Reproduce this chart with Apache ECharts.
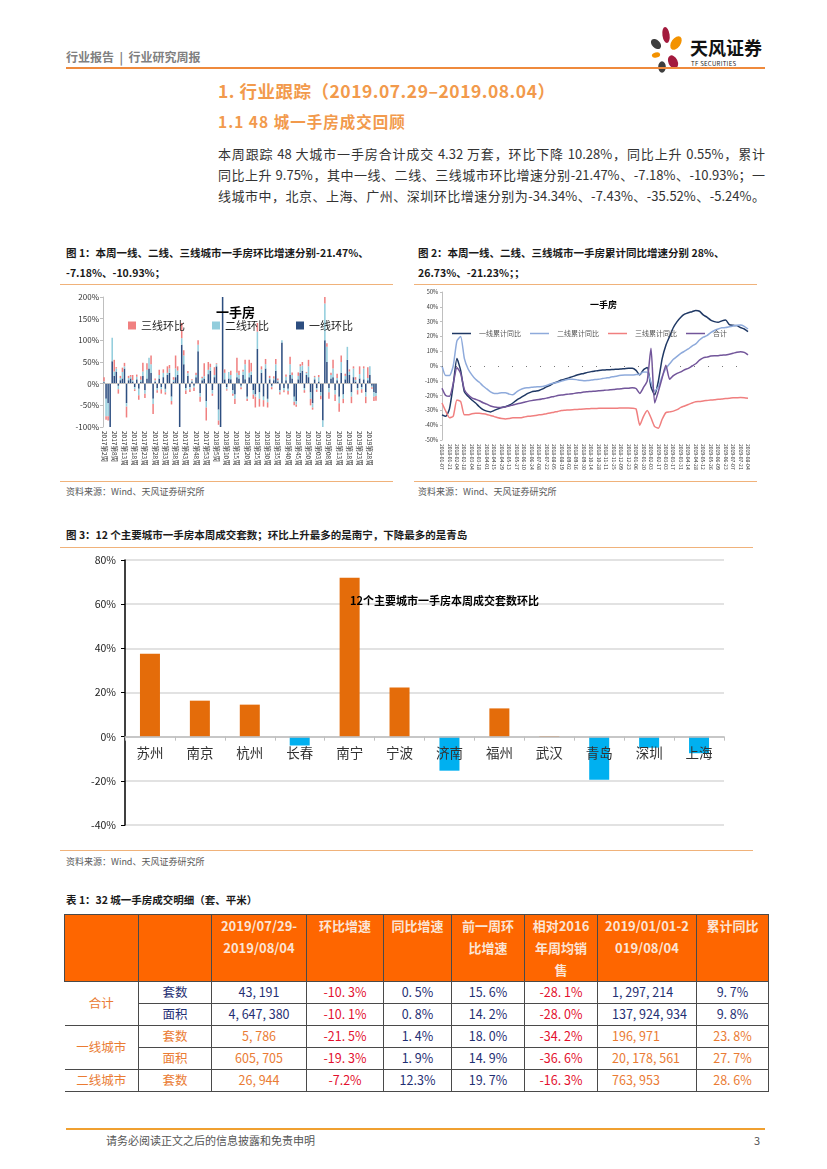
<!DOCTYPE html>
<html lang="zh-CN">
<head>
<meta charset="utf-8">
<title>行业研究周报</title>
<script src="https://cdn.jsdelivr.net/npm/echarts@6/dist/echarts.min.js"></script>
<style>
html,body{margin:0;padding:0;background:#fff;}
#page{position:relative;width:827px;height:1169px;overflow:hidden;font-family:"Noto Sans CJK SC","Noto Sans",sans-serif;color:#333;background:#fff;}
.t{position:absolute;white-space:nowrap;line-height:1;}
.hr{position:absolute;height:0;}
.just{position:absolute;line-height:1;text-align:justify;text-align-last:justify;white-space:nowrap;}
.ftitle{font-size:10.5px;font-weight:bold;color:#1a1a1a;}
.src{font-size:9px;color:#595959;}
#tbl{position:absolute;left:64px;top:914px;border-collapse:collapse;table-layout:fixed;font-size:12.5px;}
#tbl td{padding:0;text-align:center;border:1.5px solid #4a4a4a;line-height:1;}
#tbl tr.hd td{background:#fe6600;color:#fbe4d5;font-weight:bold;font-size:13px;vertical-align:top;line-height:22px;height:66px;}
#tbl tr.bd td{height:21px;}
</style>
</head>
<body>
<div id="page">
  <!-- header -->
  <div class="t" style="left:66px;top:51px;font-size:12px;font-weight:bold;color:#808080;white-space:pre;">行业报告  |  行业研究周报</div>
  <svg style="position:absolute;left:640px;top:20px;" width="50" height="58" viewBox="640 20 50 58">
    <ellipse cx="666" cy="35" rx="3.6" ry="8" fill="#a31a3d" transform="rotate(-8 666 35)"/>
    <ellipse cx="676" cy="43" rx="4.6" ry="7.5" fill="#f39200" transform="rotate(35 676 43)"/>
    <ellipse cx="656" cy="44" rx="4" ry="6" fill="#3d3d3d" transform="rotate(-45 656 44)"/>
    <ellipse cx="656" cy="55" rx="4.2" ry="2.6" fill="#f39200" transform="rotate(-15 656 55)"/>
    <ellipse cx="673" cy="62" rx="4.6" ry="7" fill="#a31a3d" transform="rotate(-25 673 62)"/>
    <ellipse cx="662" cy="67" rx="3.8" ry="5.8" fill="#3d3d3d"/>
  </svg>
  <div class="t" style="left:690px;top:38px;font-size:18px;font-weight:bold;color:#111;">天风证券</div>
  <div class="t" style="left:691px;top:61px;font-size:6px;color:#222;letter-spacing:0.3px;">TF SECURITIES</div>
  <div class="hr" style="left:66px;top:67px;width:699px;border-top:2px solid #ef8a3c;"></div>

  <!-- titles -->
  <div class="t" style="left:218px;top:82px;font-size:17.5px;font-weight:bold;color:#f29a4c;letter-spacing:0.5px;">1. 行业跟踪（2019.07.29–2019.08.04）</div>
  <div class="t" style="left:218px;top:114px;font-size:15.5px;font-weight:bold;color:#f29a4c;letter-spacing:1px;">1.1 48 城一手房成交回顾</div>
  <div class="just" style="left:218px;top:147px;width:547px;font-size:13px;color:#333;">本周跟踪 48 大城市一手房合计成交 4.32 万套，环比下降 10.28%，同比上升 0.55%，累计</div>
  <div class="just" style="left:218px;top:168px;width:547px;font-size:13px;color:#333;">同比上升 9.75%，其中一线、二线、三线城市环比增速分别-21.47%、-7.18%、-10.93%；一</div>
  <div class="just" style="left:218px;top:189px;width:547px;font-size:13px;color:#333;">线城市中，北京、上海、广州、深圳环比增速分别为-34.34%、-7.43%、-35.52%、-5.24%。</div>

  <!-- fig 1 / fig 2 titles -->
  <div class="t ftitle" style="left:66px;top:248px;">图 1：本周一线、二线、三线城市一手房环比增速分别-21.47%、</div>
  <div class="t ftitle" style="left:66px;top:268px;">-7.18%、-10.93%；</div>
  <div class="t ftitle" style="left:418px;top:248px;">图 2：本周一线、二线、三线城市一手房累计同比增速分别 28%、</div>
  <div class="t ftitle" style="left:418px;top:268px;">26.73%、-21.23%；；</div>
  <div class="hr" style="left:60px;top:284px;width:333px;border-top:1px solid #f0b27a;"></div>
  <div class="hr" style="left:414px;top:284px;width:343px;border-top:1px solid #f0b27a;"></div>
  <div id="fig1" style="position:absolute;left:60px;top:288px;width:330px;height:190px;"></div>
  <div id="fig2" style="position:absolute;left:415px;top:288px;width:345px;height:190px;"></div>
  <div class="hr" style="left:60px;top:481px;width:333px;border-top:1px solid #f0b27a;"></div>
  <div class="hr" style="left:414px;top:481px;width:343px;border-top:1px solid #f0b27a;"></div>
  <div class="t src" style="left:66px;top:487px;">资料来源：Wind、天风证券研究所</div>
  <div class="t src" style="left:418px;top:487px;">资料来源：Wind、天风证券研究所</div>

  <!-- fig 3 -->
  <div class="t ftitle" style="left:66px;top:530px;">图 3：12 个主要城市一手房本周成交套数；环比上升最多的是南宁，下降最多的是青岛</div>
  <div class="hr" style="left:60px;top:547px;width:693px;border-top:1px solid #f0b27a;"></div>
  <div id="fig3" style="position:absolute;left:60px;top:550px;width:700px;height:295px;"></div>
  <div class="hr" style="left:60px;top:850px;width:693px;border-top:1px solid #f0b27a;"></div>
  <div class="t src" style="left:66px;top:857px;">资料来源：Wind、天风证券研究所</div>

  <!-- table -->
  <div class="t ftitle" style="left:66px;top:895px;">表 1：32 城一手房成交明细（套、平米）</div>
  <table id="tbl"></table>

  <!-- footer -->
  <div class="hr" style="left:66px;top:1128px;width:699px;border-top:2px solid #f0a030;"></div>
  <div class="t" style="left:106px;top:1135px;font-size:11px;color:#555;">请务必阅读正文之后的信息披露和免责申明</div>
  <div class="t" style="left:754px;top:1135px;font-size:11px;color:#555;">3</div>
</div>

<script>
// ---------------- Figure 1: weekly month-on-month change (stacked, %) ----------------
const fig1Tier1 = [3,-35,-45,-100,52,18,28,-5,8,12, 35,-45,8,12,5,-8,10,-12,5,18, -15,12,35,25,-35,5,-10,12,-8,15,
  -12,20,25,-30,5,15,20,-100,90,45, -10,18,-8,5,-5,15,75,-22,8,12, -40,22,30,-15,15,40,-60,-100,200,10,
  -8,12,10,-15,-25,15,12,-5,20,10, -30,15,20,-15,-25,80,-20,25,-30,35, -35,10,-5,8,30,5,-15,95,-10,8,
  -12,20,12,-30,-40,10,25,30,-10,20, 15,-20,-45,10,-10,5,-20,-85,100,50, -10,12,15,-15,8,-30,25,-25,10,55,
  20,-20,15,5,-10,12,-8,10,-20,8, 20,-5,-20,-21.47];
const fig1Tier2 = [2,-40,-30,-5,54,10,7,-8,5,15, 5,-8,5,4,3,-5,6,-15,4,10, -8,20,25,20,-12,3,-5,8,-5,10,
  -8,5,10,-10,4,20,10,-5,15,20, -6,6,-5,3,-4,5,15,-8,5,5, -15,10,8,-8,5,5,-25,-5,20,15,
  -5,15,10,-8,-10,10,8,-3,8,35, -5,10,8,-10,-5,40,-15,8,-8,10, -8,3,-3,4,15,3,-5,5,-5,8,
  -5,25,8,-12,-8,8,15,12,-5,5, 25,-15,-10,5,-4,10,-8,-18,85,35, -10,8,20,-10,5,-15,25,-10,8,30,
  8,-10,20,4,-5,10,-5,25,-10,5, 20,-3,-10,-7.18];
const fig1Tier3 = [10,-8,-10,0,0,27,3,-10,5,10, 8,-25,5,4,12,-4,5,-10,8,20, -10,15,0,20,-23,4,-6,12,-10,8,
  -5,15,8,-8,6,30,10,0,35,12, -8,5,-6,2,-8,5,10,-12,3,30, -30,18,8,-5,18,2,-10,0,0,8,
  -3,0,10,-5,-12,35,10,-5,4,10, -5,30,20,-10,-25,20,-18,7,-15,12, -12,5,-5,5,12,4,-5,0,-5,5,
  -8,17,6,-8,-5,8,5,8,-6,2, 15,-15,-5,3,-5,5,-8,0,25,8, -15,5,20,-15,10,-20,15,-10,5,0,
  5,-15,5,6,-10,18,-8,5,-15,25, 0,-4,-10,-10.93];
const fig1Legend = ['三线环比','二线环比','一线环比'];

// week category labels: 2017 wk2, wk4-53; 2018 wk1-52; 2019 wk01-31
const fig1Weeks = ['2017第2周'];
for (let w = 4; w <= 53; w++) fig1Weeks.push('2017第' + w + '周');
for (let w = 1; w <= 52; w++) fig1Weeks.push('2018第' + w + '周');
for (let w = 1; w <= 31; w++) fig1Weeks.push('2019第' + (w < 10 ? '0' + w : w) + '周');

// ---------------- Figure 2: cumulative YoY (%) ----------------
const fig2Tier1 = [-33,-34,-29,-13,5,-3,-17.5,-20.5,-23,-25, -27.5,-29.5,-30.5,-31,-30,-29,-28,-27.5,-26.5,-25,
  -23,-21.5,-20,-18.5,-17.5,-17,-16.5,-15.5,-14,-13, -11.5,-10.6,-9.5,-8.8,-8,-7.2,-6.3,-5.6,-5,-4.3,
  -3.8,-3.4,-3,-2.7,-2.6,-2.5,-2.3,-2.2,-2,-1.8, -1.6,-1.6,-3,-6,-2.5,-1,-14,-19.5,-10,5,
  14,20,26,30,33,35,36,36.7,37.5,37, 34.5,33,31,30,29.5,30.5,31,28,27.5,27.3, 26,25,23.2];
const fig2Tier2 = [0,-6.5,-6.5,0,17,20,5,-2,-6,-9, -11,-13.5,-15.5,-17.5,-18.5,-18.5,-18,-18,-19,-19.5,
  -17.5,-16,-15,-14.7,-14.4,-14.2,-14,-13.8,-13.2,-12.2, -11.5,-11,-10.2,-9.5,-9,-8.9,-9.2,-9.7,-10,-9.8,
  -9.5,-9.2,-9,-8.5,-8.1,-7.7,-7.2,-6.7,-6.3,-6, -6,-6,-5.8,-5.6,-4,-4.2,-11,-17,-14,-7,
  -1.6,1.5,4.5,6.5,8.5,10,11.5,13.5,15,17.6, 19.5,20.5,22.5,24,25,25.8,26,26.5,27,27.5, 27.7,26.8,25];
const fig2Tier3 = [-25,-30.5,-35,-34,-23,-24,-33,-33,-32.3,-32, -32,-32.3,-32.7,-33.5,-34.2,-35,-35.5,-35.8,-35.5,-35,
  -35,-35,-34.5,-34,-33.8,-33.5,-33,-32.8,-32.2,-31.8, -31.2,-30.7,-30.1,-29.9,-29.7,-29.5,-29.4,-29.2,-29,-28.9,
  -28.8,-28.7,-28.6,-28.5,-28.5,-28.5,-28.5,-28.5,-28.4,-28.4, -28.4,-28.5,-29,-40,-34,-30,-35,-41,-42,-36,
  -31.5,-31,-30.5,-29.5,-28,-27,-26,-25,-24.2,-24, -23.6,-23.3,-23,-22.8,-22.5,-22.3,-22,-21.8,-21.5,-21.4, -21.3,-21.5,-21.8];
const fig2Total = [-15,-20,-20.5,-12,-1,-5,-16,-19.5,-21.5,-22.5, -23.5,-24.8,-25.8,-27,-27.7,-28,-28,-27.5,-27,-26.3,
  -25.7,-25.1,-24.5,-23.9,-23.4,-23,-22.7,-22.2,-21.7,-21.1, -20.6,-20,-19.6,-19.3,-19,-18.7,-18.3,-18,-17.6,-17.4,
  -17.2,-17,-16.8,-16.6,-16.3,-16.1,-15.9,-15.6,-15.4,-15.1, -15,-14.7,-15.2,-18.5,-14.5,-10,12,-25,-17,-8,
  0.5,-9,-6.5,-5,-4,-2.5,-1.6,0,1.5,4, 5.5,6,6.7,7,7,7.3,7.5,8,8.6,9.3, 9.7,9.2,7.5];
const fig2Names = ['一线累计同比','二线累计同比','三线累计同比','合计'];
// weekly dates from 2018-01-07
const fig2Dates = [];
for (let i = 0; i < fig2Tier1.length; i++) {
  const d = new Date(Date.UTC(2018, 0, 7 + 7 * i));
  fig2Dates.push(d.getUTCFullYear() + '-' + String(d.getUTCMonth() + 1).padStart(2, '0') + '-' + String(d.getUTCDate()).padStart(2, '0'));
}

// ---------------- Figure 3: 12 cities weekly change (%) ----------------
const cities = ['苏州','南京','杭州','长春','南宁','宁波','济南','福州','武汉','青岛','深圳','上海'];
const cityChange = [37.6, 16.3, 14.5, -4.0, 72.0, 22.3, -15.4, 12.8, 0.3, -19.5, -5.0, -7.5];
const fig3Title = '12个主要城市一手房本周成交套数环比';
const fig3AxisMin = -40, fig3AxisMax = 80, fig3AxisStep = 20;

// ---------------- Table 1 ----------------
const tableHeader = [[''], [''], ['2019/07/29-', '2019/08/04'], ['环比增速'], ['同比增速'], ['前一周环', '比增速'], ['相对2016', '年周均销', '售'], ['2019/01/01-2', '019/08/04'], ['累计同比']];
const rowGroups = [['合计', 2], ['一线城市', 2], ['二线城市', 1]];
const rowMetrics = ['套数', '面积', '套数', '面积', '套数'];
const colWeek = ['43, 191', '4, 647, 380', '5, 786', '605, 705', '26, 944'];
const colWoW = ['-10. 3%', '-10. 1%', '-21. 5%', '-19. 3%', '-7.2%'];
const colYoY = ['0. 5%', '0. 8%', '1. 4%', '1. 9%', '12.3%'];
const colPrevWoW = ['15. 6%', '14. 2%', '18. 0%', '14. 9%', '19. 7%'];
const colVs2016 = ['-28. 1%', '-28. 0%', '-34. 2%', '-36. 6%', '-16. 3%'];
const colYtd = ['1, 297, 214', '137, 924, 934', '196, 971', '20, 178, 561', '763, 953'];
const colYtdYoY = ['9. 7%', '9. 8%', '23. 8%', '27. 7%', '28. 6%'];

const FONT = '"Noto Sans CJK SC","Noto Sans",sans-serif';
const NAVY = '#1f2f73', ORANGE = '#ea7b33', RED = '#e3102e';

// build table
(function () {
  const widths = [74, 73, 95, 77, 68, 73, 73, 99, 72];
  const tbl = document.getElementById('tbl');
  let html = '<colgroup>' + widths.map(w => '<col style="width:' + w + 'px">').join('') + '</colgroup>';
  html += '<tr class="hd">' + tableHeader.map(h => '<td>' + h.join('<br>') + '</td>').join('') + '</tr>';
  let r = 0;
  rowGroups.forEach(([g, span], gi) => {
    for (let k = 0; k < span; k++, r++) {
      const main = gi === 0 ? NAVY : ORANGE;
      html += '<tr class="bd">';
      if (k === 0) html += '<td rowspan="' + span + '" style="color:' + ORANGE + ';border-left:none;">' + g + '</td>';
      html += '<td style="color:' + main + '">' + rowMetrics[r] + '</td>';
      html += '<td style="color:' + main + '">' + colWeek[r] + '</td>';
      html += '<td style="color:' + RED + '">' + colWoW[r] + '</td>';
      html += '<td style="color:' + NAVY + '">' + colYoY[r] + '</td>';
      html += '<td style="color:' + NAVY + '">' + colPrevWoW[r] + '</td>';
      html += '<td style="color:' + RED + '">' + colVs2016[r] + '</td>';
      html += '<td style="color:' + main + ';text-align:left;padding-left:14px;">' + colYtd[r] + '</td>';
      html += '<td style="color:' + main + '">' + colYtdYoY[r] + '</td>';
      html += '</tr>';
    }
  });
  tbl.innerHTML = html;
})();

// chart 1
const c1 = echarts.init(document.getElementById('fig1'));
c1.setOption({
  animation: false,
  textStyle: { fontFamily: FONT },
  title: { text: '一手房', left: 151, top: 13, textStyle: { fontSize: 13, fontWeight: 'bold', color: '#000', fontFamily: FONT } },
  legend: { data: fig1Legend, left: 63, top: 27, itemWidth: 8, itemHeight: 8, itemGap: 27, icon: 'rect',
    textStyle: { fontSize: 11, color: '#222', fontFamily: FONT } },
  grid: { left: 43, right: 13, top: 9, bottom: 51, outerBoundsMode: 'none' },
  xAxis: { type: 'category', data: fig1Weeks, axisLine: { show: false }, axisTick: { show: false },
    axisLabel: { rotate: -90, interval: 4, fontSize: 6.5, color: '#333', margin: 4, hideOverlap: false } },
  yAxis: { type: 'value', min: -100, max: 200, interval: 50,
    axisLine: { show: true, lineStyle: { color: '#bfbfbf' } },
    axisTick: { show: true, length: 3, lineStyle: { color: '#bfbfbf' } },
    splitLine: { show: false },
    axisLabel: { formatter: '{value}%', fontSize: 8, color: '#333', margin: 4 } },
  series: [
    { name: '一线环比', type: 'bar', stack: 'all', data: fig1Tier1, barCategoryGap: '25%', itemStyle: { color: '#2d4e80' },
      markLine: { silent: true, symbol: 'none', label: { show: false }, lineStyle: { color: '#bfbfbf', type: 'solid', width: 1 }, data: [{ yAxis: 0 }] } },
    { name: '二线环比', type: 'bar', stack: 'all', data: fig1Tier2, itemStyle: { color: '#92cddc' } },
    { name: '三线环比', type: 'bar', stack: 'all', data: fig1Tier3, itemStyle: { color: '#f08080' } }
  ]
});

// chart 2
const c2 = echarts.init(document.getElementById('fig2'));
const lineColors = ['#1f3864', '#8eaadb', '#f07f7f', '#72559a'];
const fig2Series = [fig2Tier1, fig2Tier2, fig2Tier3, fig2Total];
c2.setOption({
  animation: false,
  textStyle: { fontFamily: FONT },
  title: { text: '一手房', left: 170, top: 7, textStyle: { fontSize: 9, fontWeight: 'bold', color: '#000', fontFamily: FONT } },
  legend: { data: fig2Names, left: 32, top: 37, itemWidth: 19, itemHeight: 1.5, itemGap: 9, icon: 'rect',
    textStyle: { fontSize: 7, color: '#555', fontFamily: FONT, padding: [0, 0, 0, 3] } },
  grid: { left: 27, right: 12, top: 4, bottom: 38, outerBoundsMode: 'none' },
  xAxis: { type: 'category', data: fig2Dates, boundaryGap: false, axisLine: { show: false }, axisTick: { show: false },
    axisLabel: { rotate: -90, interval: 1, fontSize: 5, color: '#333', margin: 4, hideOverlap: false } },
  yAxis: { type: 'value', min: -50, max: 50, interval: 10,
    axisLine: { show: true, lineStyle: { color: '#bfbfbf' } },
    axisTick: { show: true, length: 2, lineStyle: { color: '#bfbfbf' } },
    splitLine: { show: false },
    axisLabel: { formatter: '{value}%', fontSize: 5.5, color: '#333', margin: 4 } },
  series: fig2Names.map((n, i) => ({
    name: n, type: 'line', data: fig2Series[i], showSymbol: false, symbol: 'none', smooth: 0.2,
    lineStyle: { color: lineColors[i], width: 1.5 }, itemStyle: { color: lineColors[i] },
    markLine: i === 0 ? { silent: true, symbol: 'none', label: { show: false },
      lineStyle: { color: '#777', type: [1, 13], width: 1.2 }, data: [{ yAxis: 0 }] } : undefined
  }))
});

// chart 3 : category axis placed on the zero line by offsetting the bottom axis
const fig3Grid = { left: 65, right: 36, top: 10, bottom: 20 };
const fig3PlotH = 295 - fig3Grid.top - fig3Grid.bottom;
const zeroOffset = -fig3PlotH * (0 - fig3AxisMin) / (fig3AxisMax - fig3AxisMin);
const c3 = echarts.init(document.getElementById('fig3'));
c3.setOption({
  animation: false,
  textStyle: { fontFamily: FONT },
  grid: Object.assign({ outerBoundsMode: 'none' }, fig3Grid),
  xAxis: { type: 'category', data: cities, z: 5, position: 'bottom', offset: zeroOffset,
    axisLine: { onZero: false, lineStyle: { color: '#bfbfbf', width: 1.5 } },
    axisTick: { show: true, length: 4, lineStyle: { color: '#bfbfbf' } },
    axisLabel: { fontSize: 13.5, color: '#333', margin: 9, interval: 0 } },
  yAxis: { type: 'value', min: fig3AxisMin, max: fig3AxisMax, interval: fig3AxisStep,
    axisLine: { show: true, lineStyle: { color: '#000', width: 1.5 } },
    axisTick: { show: true, length: 4, lineStyle: { color: '#000' } },
    splitLine: { lineStyle: { color: '#d9d9d9', width: 1.5 } },
    axisLabel: { formatter: '{value}%', fontSize: 10.5, color: '#222', margin: 9 } },
  series: [{ type: 'bar', data: cityChange, barWidth: 20,
    itemStyle: { color: p => (p.value >= 0 ? '#e46c0a' : '#00b0f0') } }],
  graphic: [{ type: 'text', left: 290, top: 45, z: 10,
    style: { text: fig3Title, font: 'bold 11px "Noto Sans CJK SC", serif', fill: '#000' } }]
});
</script>
</body>
</html>
